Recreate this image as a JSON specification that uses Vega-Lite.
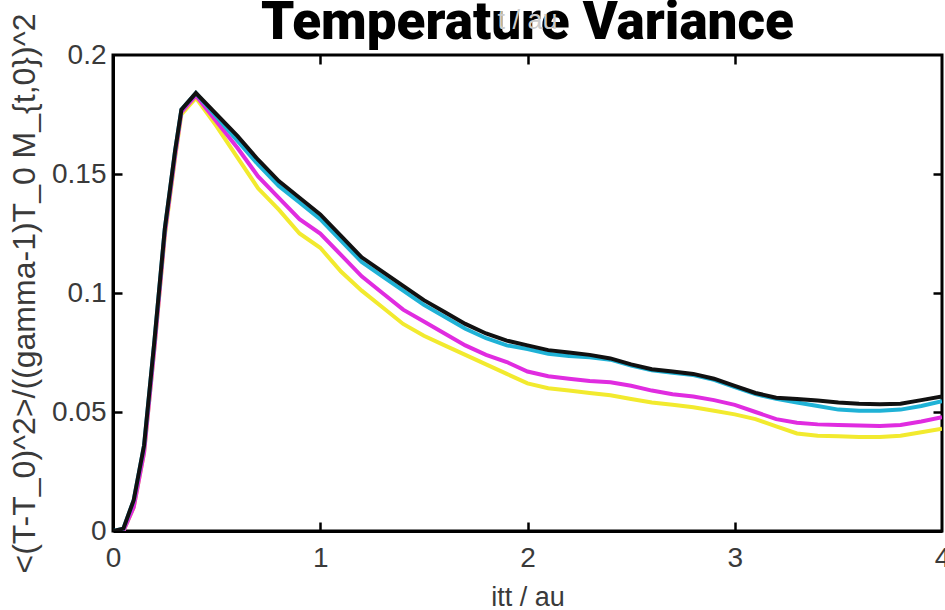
{
  "$schema": "https://vega.github.io/schema/vega-lite/v6.json",
  "width": 829,
  "height": 476,
  "autosize": {"type": "none"},
  "padding": {"left": 113, "top": 55, "right": 3, "bottom": 79},
  "background": "white",
  "title": {
    "text": "Temperature Variance",
    "subtitle": "t /  au",
    "font": "Roboto",
    "fontSize": 53,
    "fontWeight": 900,
    "color": "#000000",
    "anchor": "middle",
    "offset": -37,
    "subtitleFont": "Liberation Sans",
    "subtitleFontSize": 27,
    "subtitleColor": "#cccccc",
    "subtitlePadding": -42
  },
  "config": {
    "view": {"stroke": "#000000", "strokeWidth": 3},
    "axis": {
      "grid": false,
      "domainColor": "#000000",
      "domainWidth": 3,
      "tickColor": "#000000",
      "tickWidth": 2.5,
      "tickSize": 9,
      "labelFont": "Liberation Sans",
      "labelFontSize": 28,
      "labelColor": "#3a3a3a",
      "labelFlush": false,
      "labelOverlap": false,
      "titleFont": "Liberation Sans",
      "titleFontWeight": "normal",
      "titleColor": "#3a3a3a"
    }
  },
  "data": {
    "values": [
      {"t": 0, "s1": 0, "s2": 0, "s3": 0, "s4": 0},
      {"t": 0.05, "s1": 0, "s2": 0, "s3": 0.001, "s4": 0.001},
      {"t": 0.1, "s1": 0.01, "s2": 0.01, "s3": 0.013, "s4": 0.013},
      {"t": 0.15, "s1": 0.033, "s2": 0.033, "s3": 0.036, "s4": 0.036},
      {"t": 0.2, "s1": 0.077, "s2": 0.077, "s3": 0.08, "s4": 0.08},
      {"t": 0.25, "s1": 0.124, "s2": 0.125, "s3": 0.127, "s4": 0.127},
      {"t": 0.3, "s1": 0.157, "s2": 0.158, "s3": 0.16, "s4": 0.16},
      {"t": 0.33, "s1": 0.175, "s2": 0.176, "s3": 0.177, "s4": 0.177},
      {"t": 0.4, "s1": 0.182, "s2": 0.183, "s3": 0.184, "s4": 0.184},
      {"t": 0.5, "s1": 0.17, "s2": 0.172, "s3": 0.174, "s4": 0.175},
      {"t": 0.6, "s1": 0.157, "s2": 0.161, "s3": 0.164, "s4": 0.166},
      {"t": 0.7, "s1": 0.144, "s2": 0.149, "s3": 0.154, "s4": 0.156},
      {"t": 0.8, "s1": 0.135, "s2": 0.14, "s3": 0.145, "s4": 0.147},
      {"t": 0.9, "s1": 0.125, "s2": 0.131, "s3": 0.138, "s4": 0.14},
      {"t": 1.0, "s1": 0.119, "s2": 0.125, "s3": 0.131, "s4": 0.133},
      {"t": 1.1, "s1": 0.109, "s2": 0.116, "s3": 0.122, "s4": 0.124},
      {"t": 1.2, "s1": 0.101, "s2": 0.107, "s3": 0.113, "s4": 0.115},
      {"t": 1.3, "s1": 0.094, "s2": 0.1, "s3": 0.107, "s4": 0.109},
      {"t": 1.4, "s1": 0.087, "s2": 0.093, "s3": 0.101, "s4": 0.103},
      {"t": 1.5, "s1": 0.082, "s2": 0.088, "s3": 0.095, "s4": 0.097},
      {"t": 1.6, "s1": 0.078, "s2": 0.083, "s3": 0.09, "s4": 0.092},
      {"t": 1.7, "s1": 0.074, "s2": 0.078, "s3": 0.085, "s4": 0.087},
      {"t": 1.8, "s1": 0.07, "s2": 0.074, "s3": 0.081, "s4": 0.083},
      {"t": 1.9, "s1": 0.066, "s2": 0.071, "s3": 0.078, "s4": 0.08},
      {"t": 2.0, "s1": 0.062, "s2": 0.067, "s3": 0.0765, "s4": 0.078},
      {"t": 2.1, "s1": 0.06, "s2": 0.065, "s3": 0.0745, "s4": 0.076},
      {"t": 2.2, "s1": 0.059, "s2": 0.064, "s3": 0.0735, "s4": 0.075},
      {"t": 2.3, "s1": 0.058, "s2": 0.063, "s3": 0.073, "s4": 0.074},
      {"t": 2.4, "s1": 0.057, "s2": 0.0625, "s3": 0.072, "s4": 0.0725},
      {"t": 2.5, "s1": 0.0555, "s2": 0.061, "s3": 0.0695, "s4": 0.07},
      {"t": 2.6, "s1": 0.054, "s2": 0.059, "s3": 0.0675, "s4": 0.068},
      {"t": 2.7, "s1": 0.053, "s2": 0.0575, "s3": 0.0665, "s4": 0.067},
      {"t": 2.8, "s1": 0.052, "s2": 0.0565, "s3": 0.0655, "s4": 0.066},
      {"t": 2.9, "s1": 0.0505, "s2": 0.055, "s3": 0.0635, "s4": 0.064},
      {"t": 3.0, "s1": 0.049, "s2": 0.053, "s3": 0.0605, "s4": 0.061},
      {"t": 3.1, "s1": 0.047, "s2": 0.05, "s3": 0.0575, "s4": 0.058},
      {"t": 3.2, "s1": 0.044, "s2": 0.047, "s3": 0.0555, "s4": 0.056},
      {"t": 3.3, "s1": 0.041, "s2": 0.0455, "s3": 0.054, "s4": 0.0555},
      {"t": 3.4, "s1": 0.04, "s2": 0.0448, "s3": 0.0525, "s4": 0.0548},
      {"t": 3.5, "s1": 0.0398, "s2": 0.0445, "s3": 0.051, "s4": 0.054},
      {"t": 3.6, "s1": 0.0395, "s2": 0.0443, "s3": 0.0505, "s4": 0.0535},
      {"t": 3.7, "s1": 0.0395, "s2": 0.0441, "s3": 0.0505, "s4": 0.0533},
      {"t": 3.8, "s1": 0.04, "s2": 0.0445, "s3": 0.051, "s4": 0.0535},
      {"t": 3.9, "s1": 0.0415, "s2": 0.046, "s3": 0.0525, "s4": 0.055},
      {"t": 4.0, "s1": 0.043, "s2": 0.0478, "s3": 0.0545, "s4": 0.0565}
    ]
  },
  "transform": [{"fold": ["s1", "s2", "s3", "s4"], "as": ["series", "v"]}],
  "layer": [
    {
      "mark": {"type": "line", "strokeWidth": 4, "clip": true},
      "encoding": {
        "x": {
          "field": "t",
          "type": "quantitative",
          "scale": {"domain": [0, 4], "nice": false, "zero": false},
          "axis": {
            "orient": "bottom",
            "values": [0, 1, 2, 3, 4],
            "format": "~g",
            "ticks": false,
            "labelPadding": 13,
            "title": "itt / au",
            "titleFontSize": 27,
            "titlePadding": 12
          }
        },
        "y": {
          "field": "v",
          "type": "quantitative",
          "scale": {"domain": [0, 0.2], "nice": false},
          "axis": {
            "orient": "left",
            "values": [0, 0.05, 0.1, 0.15, 0.2],
            "format": "~g",
            "ticks": false,
            "labelPadding": 7,
            "title": "<(T-T_0)^2>/((gamma-1)T_0 M_{t,0})^2",
            "titleFontSize": 32,
            "titlePadding": 10
          }
        },
        "color": {
          "field": "series",
          "type": "nominal",
          "scale": {
            "domain": ["s1", "s2", "s3", "s4"],
            "range": ["#f2ea2e", "#e02ce0", "#1fb2d6", "#111111"]
          },
          "legend": null
        }
      }
    },
    {
      "mark": {"type": "point", "opacity": 0},
      "encoding": {
        "x": {
          "field": "t",
          "type": "quantitative",
          "axis": {"orient": "bottom", "offset": -9, "values": [1, 2, 3], "labels": false, "domain": false, "title": null}
        },
        "y": {
          "field": "v",
          "type": "quantitative",
          "axis": {"orient": "left", "offset": -9, "values": [0.05, 0.1, 0.15], "labels": false, "domain": false, "title": null}
        }
      }
    },
    {
      "mark": {"type": "point", "opacity": 0},
      "encoding": {
        "x": {
          "field": "t",
          "type": "quantitative",
          "axis": {"orient": "top", "offset": -9, "values": [1, 2, 3], "labels": false, "domain": false, "title": null}
        },
        "y": {
          "field": "v",
          "type": "quantitative",
          "axis": {"orient": "right", "offset": -9, "values": [0.05, 0.1, 0.15], "labels": false, "domain": false, "title": null}
        }
      }
    }
  ],
  "resolve": {"axis": {"x": "independent", "y": "independent"}}
}
